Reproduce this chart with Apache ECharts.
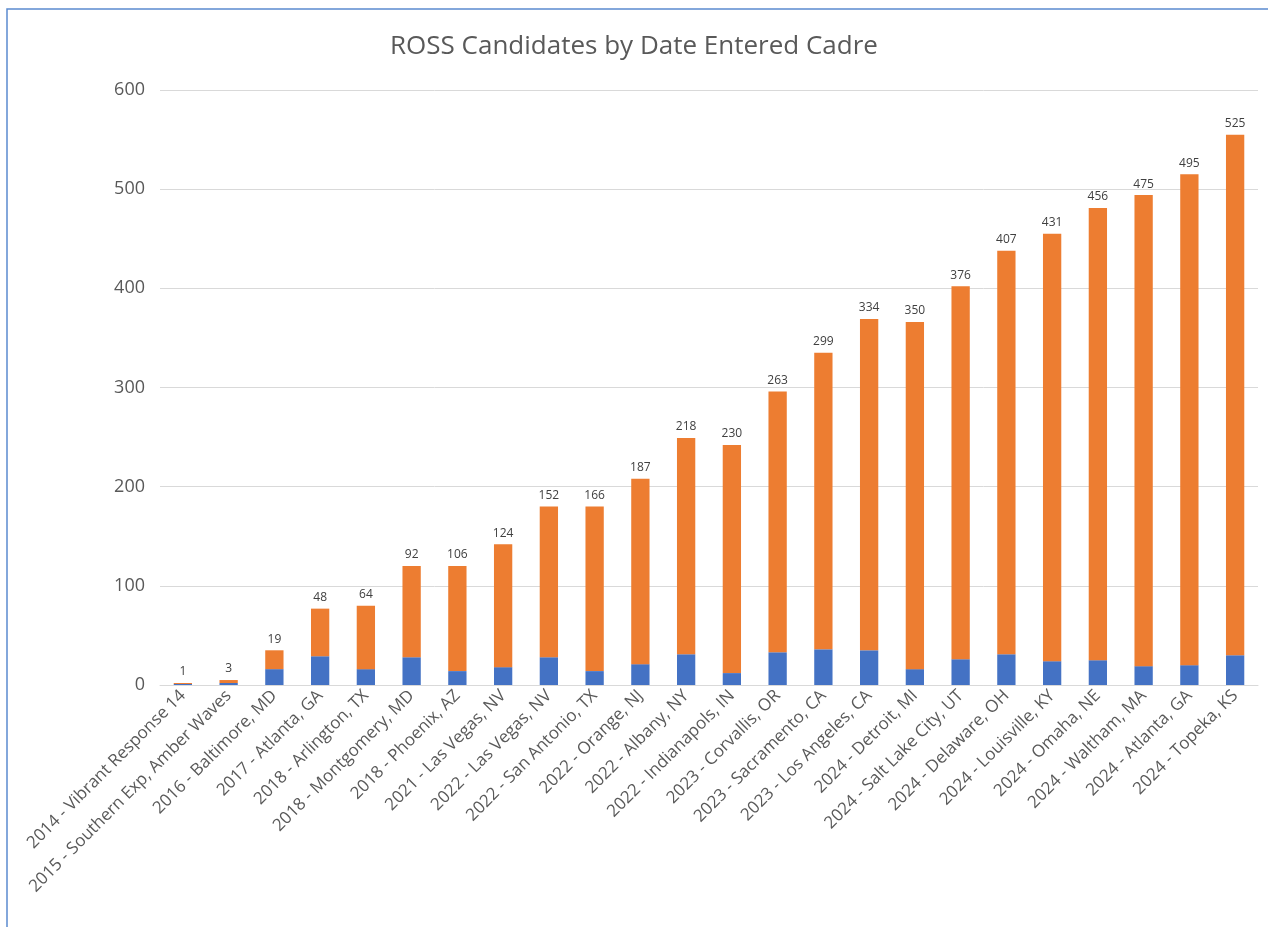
<!DOCTYPE html>
<html>
<head>
<meta charset="utf-8">
<script src="https://cdn.jsdelivr.net/npm/echarts@6/dist/echarts.min.js"></script>
<style>
  html, body { margin: 0; padding: 0; background: #fff; }
  #main { width: 1268px; height: 927px; }
</style>
</head>
<body>
<div id="main"></div>
<script>
var categories = ['2014 - Vibrant Response 14', '2015 - Southern Exp, Amber Waves', '2016 - Baltimore, MD',
  '2017 - Atlanta, GA', '2018 - Arlington, TX', '2018 - Montgomery, MD', '2018 - Phoenix, AZ',
  '2021 - Las Vegas, NV', '2022 - Las Vegas, NV', '2022 - San Antonio, TX', '2022 - Orange, NJ',
  '2022 - Albany, NY', '2022 - Indianapols, IN', '2023 - Corvallis, OR', '2023 - Sacramento, CA',
  '2023 - Los Angeles, CA', '2024 - Detroit, MI', '2024 - Salt Lake City, UT', '2024 - Delaware, OH',
  '2024 - Louisville, KY', '2024 - Omaha, NE', '2024 - Waltham, MA', '2024 - Atlanta, GA', '2024 - Topeka, KS'];
var blueValues = [1, 2, 16, 29, 16, 28, 14, 18, 28, 14, 21, 31, 12, 33, 36, 35, 16, 26, 31, 24, 25, 19, 20, 30];
var orangeValues = [1, 3, 19, 48, 64, 92, 106, 124, 152, 166, 187, 218, 230, 263, 299, 334, 350, 376, 407, 431, 456, 475, 495, 525];
var yTicks = [0, 100, 200, 300, 400, 500, 600];

var fontFam = '"Open Sans", "Noto Sans", sans-serif';
var chart = echarts.init(document.getElementById('main'));
var option = {
  animation: false,
  title: {
    text: 'ROSS Candidates by Date Entered Cadre',
    left: 'center',
    top: 29,
    textStyle: { color: '#595959', fontSize: 26, fontWeight: 'normal', fontFamily: fontFam }
  },
  graphic: [{
    type: 'rect',
    shape: { x: 7, y: 9, width: 1300, height: 1000 },
    style: { fill: 'none', stroke: '#5B8BD0', lineWidth: 1.5 },
    silent: true
  }],
  grid: { left: 160, right: 10, top: 90, bottom: 242 },
  xAxis: {
    type: 'category',
    data: categories,
    axisTick: { show: false },
    axisLine: { lineStyle: { color: '#d9d9d9', width: 1 } },
    axisLabel: {
      interval: 0, rotate: 45, color: '#595959', fontSize: 17, fontFamily: fontFam, margin: 8
    }
  },
  yAxis: {
    type: 'value',
    min: yTicks[0],
    max: yTicks[yTicks.length - 1],
    interval: 100,
    axisLine: { show: false },
    axisTick: { show: false },
    splitLine: { lineStyle: { color: '#d9d9d9' } },
    axisLabel: { color: '#595959', fontSize: 18, fontFamily: fontFam, margin: 15 }
  },
  series: [
    {
      name: 'blue',
      type: 'bar',
      stack: 'total',
      barWidth: '40%',
      data: blueValues,
      itemStyle: { color: '#4472C4' }
    },
    {
      name: 'orange',
      type: 'bar',
      stack: 'total',
      data: orangeValues,
      itemStyle: { color: '#ED7D31' },
      label: {
        show: true, position: 'top', distance: 5,
        color: '#404040', fontSize: 12, fontFamily: fontFam
      }
    }
  ]
};
chart.setOption(option);
</script>
</body>
</html>
